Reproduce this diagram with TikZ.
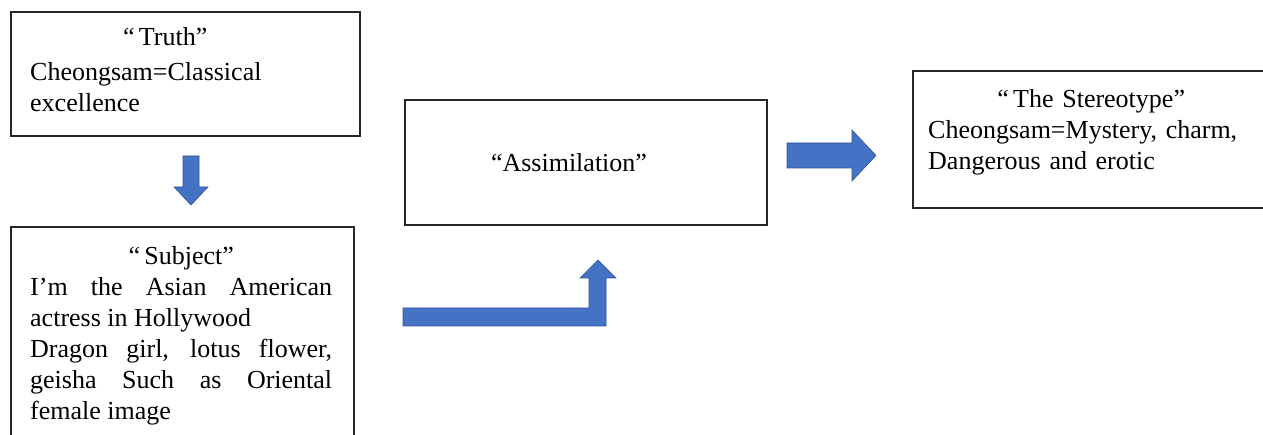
\documentclass[tikz,border=0pt]{standalone}
\usepackage{fontspec}
\setmainfont{Liberation Serif}
\setlength{\parindent}{0pt}
\definecolor{arrowfill}{HTML}{4472C4}
\definecolor{arrowedge}{HTML}{2F5597}

\begin{document}
\begin{tikzpicture}[x=1pt,y=-1pt,
  panel/.style={draw=black!85,line width=2pt,anchor=north west,inner sep=0pt},
  boxtext/.style={inner sep=0pt,anchor=base west,font=\fontsize{26}{31}\selectfont},
  blockarrow/.style={fill=arrowfill,draw=arrowedge,line width=.6pt,line join=miter}]
\path[use as bounding box] (0,0) rectangle (1263,435);
\begin{scope}
\clip (0,0) rectangle (1263,435);
\node[panel,minimum width=349pt,minimum height=124pt] (truthbox) at (10,11) {};
\node[panel,minimum width=343pt,minimum height=230pt] (subjbox) at (10,226) {};
\node[panel,minimum width=362pt,minimum height=125pt] (assimbox) at (404,99) {};
\node[panel,minimum width=370pt,minimum height=137pt] (stereobox) at (912,70) {};
\end{scope}
\node[boxtext,text width=270pt] (truthtext) at (30,46) {{\centering “\,Truth”\par}\vspace{4pt}Cheongsam=Classical\\excellence};
\node[boxtext,text width=302pt,align=justify] (subjtext) at (30,265) {{\centering “\,Subject”\par}I'm the Asian American\linebreak actress in Hollywood\par Dragon girl, lotus flower,\linebreak geisha Such as Oriental\linebreak female image};
\node[boxtext,anchor=base] (assimtext) at (569,172) {“Assimilation”};
\node[boxtext,text width=326pt] (stereotext) at (928,108) {{\centering “\,The Stereotype”\par}Cheongsam=Mystery, charm,\\Dangerous and erotic};
\draw[blockarrow] (183,156) -- (199,156) -- (199,187) -- (208,187) -- (191,205) -- (174,187) -- (183,187) -- cycle;
\draw[blockarrow] (403,308) -- (589,308) -- (589,278) -- (580,278) -- (598,260) -- (616,278) -- (606,278) -- (606,326) -- (403,326) -- cycle;
\draw[blockarrow] (787,143) -- (852,143) -- (852,130) -- (876,155.5) -- (852,181) -- (852,168) -- (787,168) -- cycle;
\end{tikzpicture}
\end{document}
